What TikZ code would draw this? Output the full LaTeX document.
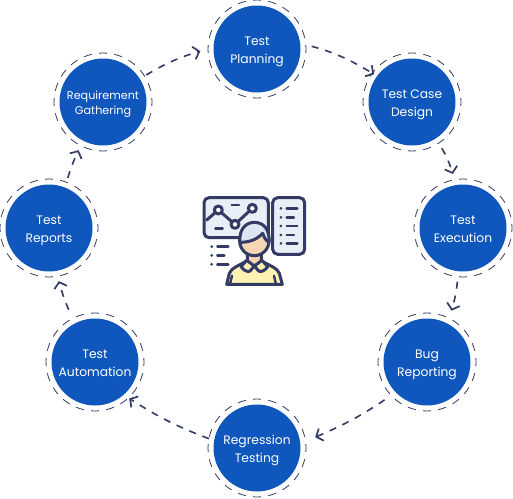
\documentclass[tikz,border=0pt]{standalone}
\usepackage{fontspec}
\setmainfont{Poppins}
\usetikzlibrary{arrows.meta,bending}
\definecolor{navy}{HTML}{333A63}
\definecolor{stagefill}{HTML}{0F57BD}
\definecolor{panelfill}{HTML}{E9EFF7}
\definecolor{skinfill}{HTML}{F6D6B4}
\definecolor{shirtfill}{HTML}{FDF2B3}
\definecolor{hairfill}{HTML}{DCE6F1}
\newcommand{\twolines}[2]{\raisebox{-4.5pt}[0pt][0pt]{\begin{tabular}{@{}c@{}}#1\\#2\end{tabular}}}
\tikzset{
  stage/.style={circle,minimum size=98pt,inner sep=0pt,outer sep=0pt,draw=navy,line width=.8pt,
    dash pattern=on 8pt off 7.39pt,dash phase=4pt,text=white,font=\fontsize{12.3}{18}\selectfont,
    path picture={\fill[stagefill] (path picture bounding box.center) circle (43.5pt);}},
  smalltext/.style={font=\fontsize{11.2}{15}\selectfont},
  flow/.style={draw=navy,line width=1.6pt,dash pattern=on 7pt off 7pt,
    -{Straight Barb[length=5.5pt,width=13pt,line width=1.7pt]}},
  ic/.style={draw=navy,line width=3pt,line join=round,line cap=round},
  icthin/.style={draw=navy,line width=2.4pt,line cap=round},
}
\begin{document}
\begin{tikzpicture}[x=1pt,y=-1pt]
\useasboundingbox (0,0) rectangle (513,498);
\node[stage] (plan) at (257,49) {\twolines{Test}{Planning}};
\node[stage] (case) at (412,102) {\twolines{Test Case}{Design}};
\node[stage] (exec) at (463,228) {\twolines{Test}{Execution}};
\node[stage] (bug) at (427,362) {\twolines{Bug}{Reporting}};
\node[stage] (reg) at (257,448) {\twolines{Regression}{Testing}};
\node[stage] (auto) at (95,362) {\twolines{Test}{Automation}};
\node[stage] (rep) at (49,228) {\twolines{Test}{Reports}};
\node[stage,smalltext] (req) at (103,102) {\twolines{Requirement}{Gathering}};

\draw[flow,shorten <=2pt,shorten >=8pt] (req.32) to[bend left=8] (plan.180);
\draw[flow,shorten <=6pt,shorten >=-2pt] (plan.5) to[bend left=8] (case.144);
\draw[flow,shorten <=6pt,shorten >=6pt] (case.-57) to[bend left=8] (exec.100);
\draw[flow,shorten <=5pt,shorten >=8pt] (exec.-96) to[bend left=6] (bug.63);
\draw[flow,shorten <=8pt,shorten >=10.5pt] (bug.-137) to[bend left=6] (reg.8);
\draw[flow,shorten <=0pt,shorten >=1pt] (reg.169) to[bend left=6] (auto.-47);
\draw[flow,shorten <=9.5pt,shorten >=5pt] (auto.117) to[bend left=5] (rep.-80);
\draw[flow,shorten <=4.5pt,shorten >=5pt] (rep.69) to[bend left=5] (req.-117);

\begin{scope}[shift={(190,185)},x=.3333pt,y=-.3333pt]
  \path[ic,fill=panelfill,rounded corners=5pt] (42,38) rectangle (235,158);
  \path[ic,fill=panelfill,rounded corners=5pt] (248,38) rectangle (344,208);
  \draw[ic] (50,105) -- (85,75) -- (135,118) -- (187,70);
  \foreach \p in {(85,75),(135,118),(187,70)} \path[ic,fill=white] \p circle (12);
  \draw[icthin] (125,60) -- (147,60);
  \draw[icthin] (76,130) -- (98,130);
  \foreach \y/\e in {70/322,97/312,123/322,150/312,175/322}{
    \fill[navy] (273,\y) circle (4.5);
    \draw[icthin] (290,\y) -- (\e,\y);
  }
  \foreach \y/\e in {185/115,211/103,238/115}{
    \fill[navy] (65,\y) circle (4.5);
    \draw[icthin] (82,\y) -- (\e,\y);
  }
  \path[ic,fill=shirtfill] (110,298) -- (118,265) .. controls (122,250) and (150,240) .. (170,228)
     -- (215,228) .. controls (235,240) and (264,250) .. (268,265) -- (277,298) -- cycle;
  \path[ic,fill=skinfill] (172,205) -- (172,232) .. controls (180,245) and (205,245) .. (214,232) -- (214,205) -- cycle;
  \path[ic,fill=shirtfill] (170,226) -- (153,245) .. controls (162,258) and (175,262) .. (180,258) -- (193,243)
     -- (206,258) .. controls (212,262) and (225,258) .. (233,245) -- (216,226) -- (193,243) -- cycle;
  \path[ic,fill=skinfill] (193,168) circle (44);
  \path[ic,fill=hairfill] (150,172) .. controls (146,130) and (170,112) .. (193,112)
     .. controls (222,112) and (240,135) .. (237,172)
     .. controls (225,165) and (222,155) .. (218,145)
     .. controls (200,165) and (175,172) .. (150,172) -- cycle;
  \draw[icthin] (120,298) -- (126,272);
  \draw[icthin] (258,298) -- (252,272);
\end{scope}
\end{tikzpicture}
\end{document}
